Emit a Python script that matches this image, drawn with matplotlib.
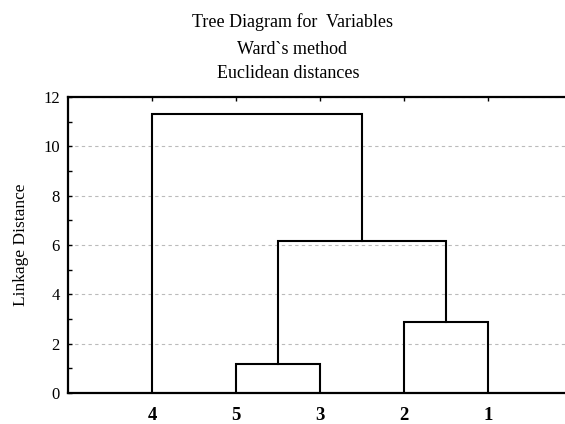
import matplotlib
matplotlib.use("Agg")
from matplotlib import pyplot as plt
from matplotlib.ticker import MultipleLocator

# leaf order along the x axis
leaves = ['4', '5', '3', '2', '1']
# merges: members are leaf labels or earlier merges ('m0' = first merge ...)
merge_left = ['5', '2', 'm0', '4']
merge_right = ['3', '1', 'm1', 'm2']
merge_height = [1.18, 2.87, 6.15, 11.31]

plt.rcParams['font.family'] = ['Liberation Serif', 'DejaVu Serif']

fig = plt.figure(figsize=(5.65, 4.24), dpi=100)
ax = fig.add_axes([68 / 565, 1 - 393 / 424, 504 / 565, 296 / 424])

pos = {}
hgt = {}
for i, lab in enumerate(leaves):
    pos[lab] = i + 1
    hgt[lab] = 0.0

for k, (a, b, h) in enumerate(zip(merge_left, merge_right, merge_height)):
    x1, x2 = pos[a], pos[b]
    ax.plot([x1, x1, x2, x2], [hgt[a], h, h, hgt[b]], color='black', lw=1.5,
            solid_joinstyle='miter', zorder=3)
    pos['m%d' % k] = (x1 + x2) / 2
    hgt['m%d' % k] = h

ax.set_xlim(0, len(leaves) + 1)
ax.set_ylim(0, 12)
ax.set_xticks(range(1, len(leaves) + 1))
ax.set_xticklabels(leaves, fontsize=13.5, fontweight='bold')
ax.yaxis.set_major_locator(MultipleLocator(2))
ax.yaxis.set_minor_locator(MultipleLocator(1))
ax.tick_params(axis='y', which='both', direction='in', length=3, width=1, labelsize=12, pad=6)
ax.tick_params(axis='x', which='both', direction='in', length=3, width=1, top=True, bottom=False, pad=10)

ax.grid(axis='y', color='#bbbbbb', linestyle=(0, (3, 3)), lw=0.8)
ax.set_axisbelow(True)
for s in ['left', 'top', 'bottom']:
    ax.spines[s].set_linewidth(1.6)
ax.spines['right'].set_visible(False)

ax.set_ylabel('Linkage Distance', fontsize=12.5, labelpad=10)

fig.text(292 / 565, 1 - 22 / 424, 'Tree Diagram for  Variables', ha='center', va='center', fontsize=13)
fig.text(292 / 565, 1 - 50 / 424, 'Ward`s method', ha='center', va='center', fontsize=13)
fig.text(288 / 565, 1 - 73 / 424, 'Euclidean distances', ha='center', va='center', fontsize=13)

fig.savefig('out.png', dpi=100)
